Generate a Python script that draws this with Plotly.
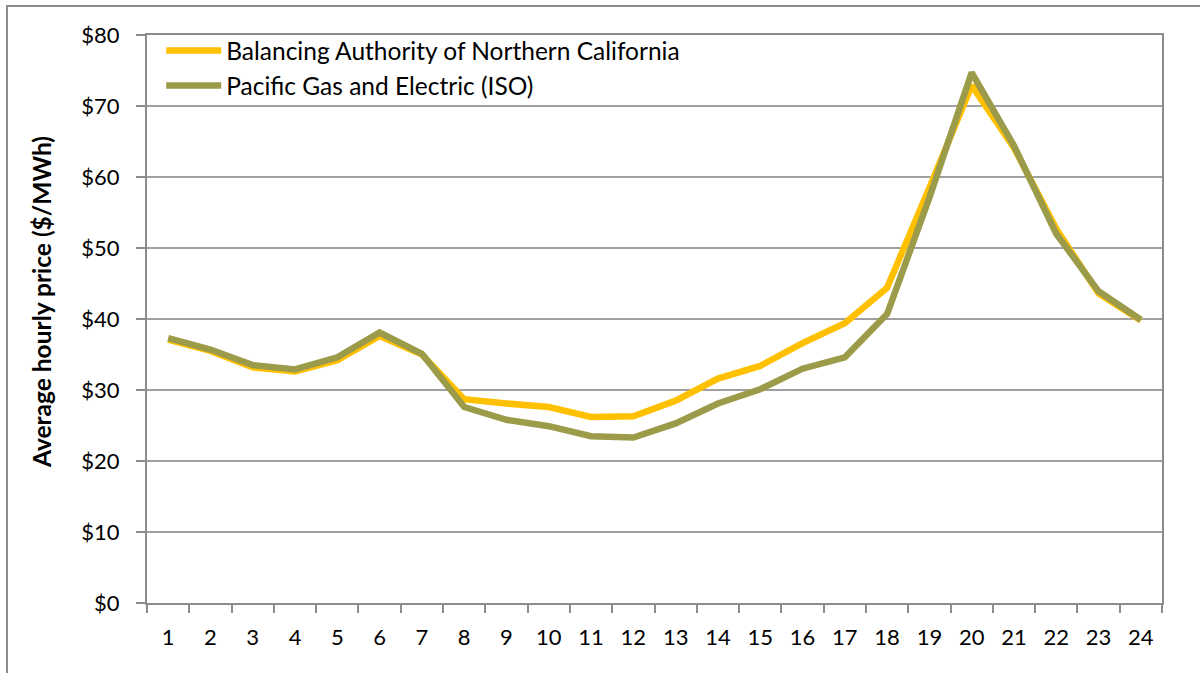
import plotly.graph_objects as go

hours = [str(h) for h in range(1, 25)]
banc = [37.1, 35.5, 33.2, 32.6, 34.2, 37.6, 35.0, 28.7, 28.1, 27.6, 26.2, 26.3,
        28.5, 31.6, 33.4, 36.6, 39.4, 44.4, 58.5, 72.9, 64.1, 52.7, 43.6, 39.8]
pge = [37.3, 35.7, 33.5, 32.9, 34.6, 38.1, 35.1, 27.6, 25.8, 24.9, 23.5, 23.3,
       25.3, 28.1, 30.1, 33.0, 34.6, 40.7, 57.1, 74.7, 64.4, 52.0, 43.9, 39.9]
y_ticks = [0, 10, 20, 30, 40, 50, 60, 70, 80]
y_labels = ["$" + str(v) for v in y_ticks]
y_title = "Average hourly price ($/MWh)"

FONT = "Lato, Carlito, Calibri, sans-serif"

fig = go.Figure()
fig.add_trace(go.Scatter(x=hours, y=banc, mode="lines",
                         name="Balancing Authority of Northern California",
                         line=dict(color="#FFC000", width=6.5)))
fig.add_trace(go.Scatter(x=hours, y=pge, mode="lines",
                         name="Pacific Gas and Electric (ISO)",
                         line=dict(color="#9B9B4A", width=6.5)))

L, R, T, B = 147, 38, 35, 70
W, H = 1200, 673
pw, ph = W - L - R, H - T - B

def px_x(x):
    return (x - L) / pw

def px_y(y):
    return (H - B - y) / ph

fig.update_layout(
    width=W, height=H,
    margin=dict(l=L, r=R, t=T, b=B, autoexpand=False),
    paper_bgcolor="white", plot_bgcolor="white",
    font=dict(family=FONT, size=22, color="#000000"),
    showlegend=True,
    legend=dict(x=0.014, y=1.012, xanchor="left", yanchor="top",
                bgcolor="rgba(0,0,0,0)", font=dict(size=24.5),
                tracegroupgap=0, itemwidth=55),
    xaxis=dict(type="category", range=[-0.5, 23.5],
               tickson="boundaries", ticks="outside",
               ticklen=8, tickwidth=2, tickcolor="#8C8C8C",
               showline=True, linewidth=2, linecolor="#8C8C8C", mirror=True,
               showgrid=False, tickfont=dict(size=22), ticklabelstandoff=14),
    yaxis=dict(range=[0, 80], tickvals=y_ticks, ticktext=y_labels,
               ticks="outside", ticklen=9, tickwidth=2, tickcolor="#8C8C8C",
               showline=True, linewidth=2, linecolor="#8C8C8C", mirror=True,
               showgrid=True, gridcolor="#A0A0A0", gridwidth=2,
               zeroline=False, tickfont=dict(size=22), ticklabelstandoff=12),
    annotations=[dict(text=y_title, textangle=-90, showarrow=False,
                      xref="paper", yref="paper",
                      x=px_x(41), y=px_y(302), xanchor="center", yanchor="middle",
                      font=dict(size=24.5, weight="bold"))],
    shapes=[dict(type="rect", xref="paper", yref="paper",
                 x0=px_x(7), x1=px_x(1215), y0=px_y(690), y1=px_y(6),
                 line=dict(color="#8C8C8C", width=2), layer="below")],
)

fig.write_html("out.html", config={"displayModeBar": False},
               post_script="document.body.style.margin='0';")
